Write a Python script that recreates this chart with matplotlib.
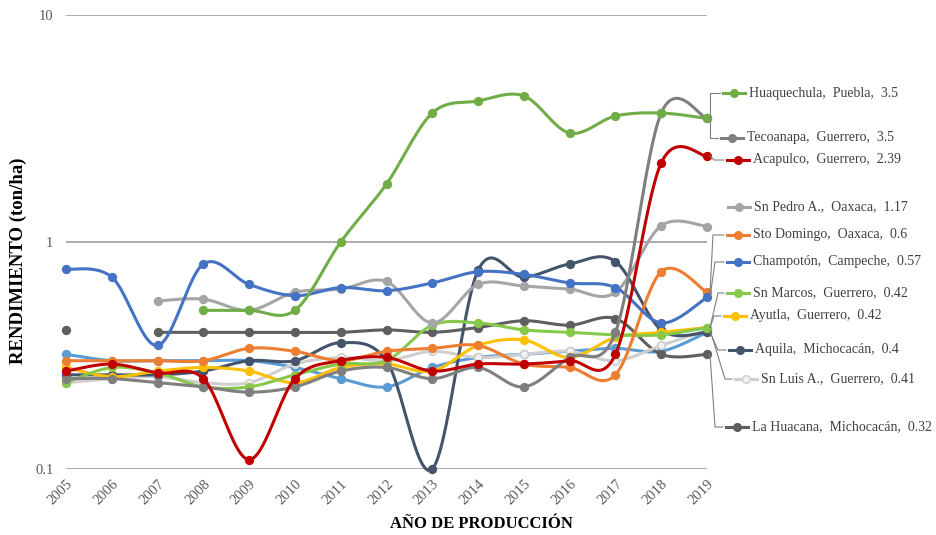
import numpy as np
import matplotlib
matplotlib.use("Agg")
import matplotlib.pyplot as plt
from matplotlib.lines import Line2D
from matplotlib.ticker import NullLocator, FixedLocator, FixedFormatter

plt.rcParams['font.family'] = ['Liberation Serif', 'DejaVu Serif']

years = list(range(2005, 2020))
nan = np.nan

# rendimiento por municipio (ton/ha), 2005-2019
huaquechula = [nan, nan, nan, 0.50, 0.50, 0.50, 1.00, 1.80, 3.70, 4.18, 4.40, 3.02, 3.59, 3.70, 3.5]
tecoanapa   = [0.25, 0.25, 0.24, 0.23, 0.218, 0.23, 0.27, 0.28, 0.25, 0.28, 0.23, 0.31, 0.40, 3.70, 3.5]
acapulco    = [0.27, 0.29, 0.265, 0.25, 0.11, 0.25, 0.30, 0.31, 0.27, 0.29, 0.29, 0.30, 0.32, 2.23, 2.39]
sn_pedro    = [nan, nan, 0.55, 0.56, 0.50, 0.60, 0.62, 0.67, 0.44, 0.65, 0.64, 0.62, 0.60, 1.18, 1.17]
sto_domingo = [0.30, 0.30, 0.30, 0.30, 0.34, 0.33, 0.30, 0.33, 0.34, 0.35, 0.29, 0.28, 0.26, 0.74, 0.6]
champoton   = [0.76, 0.70, 0.35, 0.80, 0.65, 0.58, 0.63, 0.61, 0.66, 0.74, 0.72, 0.66, 0.63, 0.44, 0.57]
sn_marcos   = [0.24, 0.28, 0.265, 0.23, 0.23, 0.26, 0.29, 0.30, 0.43, 0.44, 0.41, 0.40, 0.39, 0.39, 0.42]
ayutla      = [0.28, 0.255, 0.27, 0.28, 0.27, 0.24, 0.28, 0.29, 0.27, 0.35, 0.37, 0.31, 0.38, 0.40, 0.42]
aquila      = [0.26, 0.26, 0.26, 0.27, 0.30, 0.30, 0.36, 0.30, 0.10, 0.75, 0.70, 0.80, 0.82, 0.41, 0.4]
sn_luis     = [0.24, 0.25, 0.255, 0.24, 0.24, 0.29, 0.31, 0.30, 0.33, 0.31, 0.32, 0.33, 0.30, 0.35, 0.41]
la_huacana  = [0.41, nan, 0.40, 0.40, 0.40, 0.40, 0.40, 0.41, 0.40, 0.42, 0.45, 0.43, 0.46, 0.32, 0.32]
sin_nombre  = [0.32, 0.30, 0.30, 0.30, 0.30, 0.28, 0.25, 0.23, 0.28, 0.31, 0.32, 0.33, 0.34, 0.33, 0.40]

names = ["Huaquechula,  Puebla", "Tecoanapa,  Guerrero", "Acapulco,  Guerrero",
         "Sn Pedro A.,  Oaxaca", "Sto Domingo,  Oaxaca", "Champotón,  Campeche",
         "Sn Marcos,  Guerrero", "Ayutla,  Guerrero", "Aquila,  Michocacán",
         "Sn Luis A.,  Guerrero", "La Huacana,  Michocacán"]
series = [huaquechula, tecoanapa, acapulco, sn_pedro, sto_domingo, champoton,
          sn_marcos, ayutla, aquila, sn_luis, la_huacana]
colors = ["#70AD47", "#7F7F7F", "#C00000", "#A5A5A5", "#ED7D31", "#4472C4",
          "#86C84A", "#FFC000", "#44546A", "#CFCFCF", "#5F5F5F"]

# label placement (pixels): y centre, key start, leader knee
lbl_y = [93, 138, 160, 207, 235, 262, 293, 316, 350, 379, 427]
key_x = [723, 721, 727, 728, 727, 727, 727, 724, 729, 735, 726]
knee_x = [710, 710, 714, None, 713, 715, 718, 714, 718, 725, 715]


def smooth(xs, ys, n=24):
    # Catmull-Rom style bezier through the points, in log space
    px = np.asarray(xs, float)
    py = np.log10(np.asarray(ys, float))
    if len(px) < 2:
        return px, 10 ** py
    outx, outy = [], []
    for i in range(len(px) - 1):
        i0 = max(i - 1, 0)
        i3 = min(i + 2, len(px) - 1)
        p0 = np.array([px[i0], py[i0]])
        p1 = np.array([px[i], py[i]])
        p2 = np.array([px[i + 1], py[i + 1]])
        p3 = np.array([px[i3], py[i3]])
        c1 = p1 + (p2 - p0) / 6
        c2 = p2 - (p3 - p1) / 6
        t = np.linspace(0, 1, n)[:, None]
        b = ((1 - t) ** 3) * p1 + 3 * ((1 - t) ** 2) * t * c1 + 3 * (1 - t) * t ** 2 * c2 + t ** 3 * p2
        if i > 0:
            b = b[1:]
        outx.extend(b[:, 0])
        outy.extend(b[:, 1])
    return np.array(outx), 10 ** np.array(outy)


def draw(ax, vals, color, z, face=None):
    x = np.array(years, float)
    y = np.array(vals, float)
    ok = ~np.isnan(y)
    # split into runs of consecutive values
    runs, cur = [], []
    for xi, yi, k in zip(x, y, ok):
        if k:
            cur.append((xi, yi))
        elif cur:
            runs.append(cur)
            cur = []
    if cur:
        runs.append(cur)
    for r in runs:
        rx, ry = zip(*r)
        sx, sy = smooth(rx, ry)
        ax.plot(sx, sy, color=color, lw=2.2, zorder=z, clip_on=False, solid_capstyle='round')
    ax.plot(x[ok], y[ok], ls='none', marker='o', ms=5.5, color=color,
            mfc=face or color, mec=color, mew=1.2, zorder=z + 0.5, clip_on=False)


fig = plt.figure(figsize=(9.36, 5.35), dpi=100)
W, H = 936, 535
ax = fig.add_axes([66 / W, 1 - 469 / H, 641 / W, 454 / H])
ax.set_yscale('log')
ax.set_xlim(2005, 2019)
ax.set_ylim(0.1, 10)
for s in ax.spines.values():
    s.set_visible(False)
ax.yaxis.set_major_locator(FixedLocator([0.1, 1, 10]))
ax.yaxis.set_major_formatter(FixedFormatter(["0.1", "1", "10"]))
ax.yaxis.set_minor_locator(NullLocator())
ax.yaxis.grid(True, color='#A6A6A6', lw=1.3, zorder=0)
ax.set_axisbelow(True)
ax.set_xticks(years)
ax.set_xticklabels([str(y) for y in years], rotation=45, ha='right', va='top',
                   rotation_mode='anchor')
ax.tick_params(axis='both', length=0, labelsize=10.5, labelcolor='#595959')
ax.tick_params(axis='x', pad=6)
ax.tick_params(axis='y', pad=9)

ax.set_ylabel("RENDIMIENTO (ton/ha)", fontsize=13.5, fontweight='bold')
ax.yaxis.set_label_coords((18 - 66) / 641, (469 - 261) / 454)
ax.set_xlabel("AÑO DE PRODUCCIÓN", fontsize=12, fontweight='bold')
ax.xaxis.set_label_coords((481 - 66) / 641, (469 - 524) / 454)
ax.xaxis.label.set_va('center')
ax.yaxis.label.set_va('center')

draw(ax, sin_nombre, "#5B9BD5", 2)
order = [10, 9, 8, 7, 6, 4, 3, 5, 1, 2, 0]
for k, i in enumerate(order):
    face = "#F2F2F2" if i == 9 else None
    draw(ax, series[i], colors[i], 3 + k, face)

fig.canvas.draw()
to_fig = fig.transFigure.inverted()
for i, name in enumerate(names):
    v = series[i][-1]
    yf = 1 - lbl_y[i] / H
    kx0 = key_x[i] / W
    kx1 = (key_x[i] + 22) / W
    fig.add_artist(Line2D([kx0, kx1], [yf, yf], color=colors[i], lw=2.2))
    fig.add_artist(Line2D([(kx0 + kx1) / 2], [yf], ls='none', marker='o', ms=5.5,
                          color=colors[i], mfc="#F2F2F2" if i == 9 else colors[i]))
    fig.text(kx1 + 4 / W, yf, f"{name},  {v:g}", fontsize=10, color='#404040',
             ha='left', va='center')
    if knee_x[i] is not None:
        px, py = to_fig.transform(ax.transData.transform((2019, v)))
        fig.add_artist(Line2D([px + 3 / W, knee_x[i] / W, (key_x[i] - 3) / W],
                              [py, yf, yf], color='#808080', lw=0.8))

fig.savefig("out.png", dpi=100)
